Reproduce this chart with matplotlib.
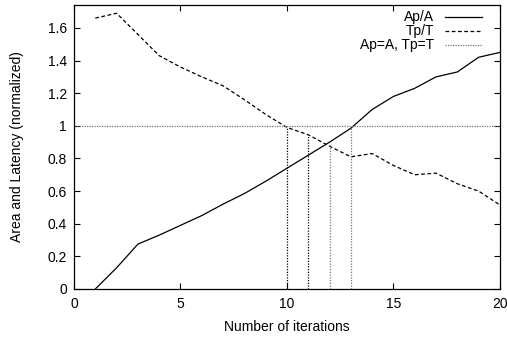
import matplotlib
matplotlib.use("Agg")
import matplotlib.pyplot as plt

plt.rcParams['font.family'] = ['Liberation Sans', 'DejaVu Sans']
plt.rcParams['font.size'] = 10

# data
iterations = list(range(1, 21))
area_ratio = [0.0, 0.13, 0.275, 0.33, 0.39, 0.45, 0.52, 0.585, 0.66, 0.74,
              0.82, 0.90, 0.985, 1.10, 1.18, 1.23, 1.30, 1.33, 1.42, 1.45]
latency_ratio = [1.66, 1.69, 1.56, 1.43, 1.36, 1.30, 1.245, 1.16, 1.07, 0.99,
                 0.945, 0.875, 0.81, 0.83, 0.757, 0.70, 0.71, 0.645, 0.60, 0.515]
mark_x = [10, 11, 12, 13]
mark_top = [0.99, 0.945, 0.89, 0.985]
mark_color = ['black', 'black', '#777777', '#777777']

fig = plt.figure(figsize=(5.07, 3.38), dpi=100)
ax = fig.add_axes([0.146, 0.145, 0.84, 0.84])

ax.plot(iterations, area_ratio, color='black', lw=0.9, solid_joinstyle='miter')
ax.plot(iterations, latency_ratio, color='black', lw=0.9, dashes=(3, 2))
ax.axhline(1.0, color='#777777', lw=0.9, dashes=(1, 1))
for x, top, c in zip(mark_x, mark_top, mark_color):
    ax.plot([x, x], [0, top], color=c, lw=0.9, dashes=(1, 1.2))

ax.set_xlim(0, 20)
ax.set_ylim(0, 1.74)
ax.set_xticks([0, 5, 10, 15, 20])
ax.set_yticks([0, 0.2, 0.4, 0.6, 0.8, 1.0, 1.2, 1.4, 1.6])
ax.set_yticklabels(['0', '0.2', '0.4', '0.6', '0.8', '1', '1.2', '1.4', '1.6'])
ax.tick_params(direction='in', length=4, width=0.8, top=True, right=True)
ax.tick_params(axis='x', pad=6)
ax.tick_params(axis='y', pad=5)
for s in ax.spines.values():
    s.set_linewidth(0.9)

ax.set_xlabel('Number of iterations', labelpad=6)
ax.set_ylabel('Area and Latency (normalized)', labelpad=17)

# gnuplot-style key: text right aligned, sample on the right
labels = ['Ap/A', 'Tp/T', 'Ap=A, Tp=T']
styles = [dict(color='black'), dict(color='black', dashes=(3, 2)),
          dict(color='#777777', dashes=(1, 1))]
for i, (lab, st) in enumerate(zip(labels, styles)):
    yy = 0.957 - i * 0.049
    ax.text(0.845, yy, lab, transform=ax.transAxes, ha='right', va='center')
    ax.plot([0.871, 0.957], [yy, yy], transform=ax.transAxes, lw=0.9, **st)

fig.savefig('out.png', dpi=100)
